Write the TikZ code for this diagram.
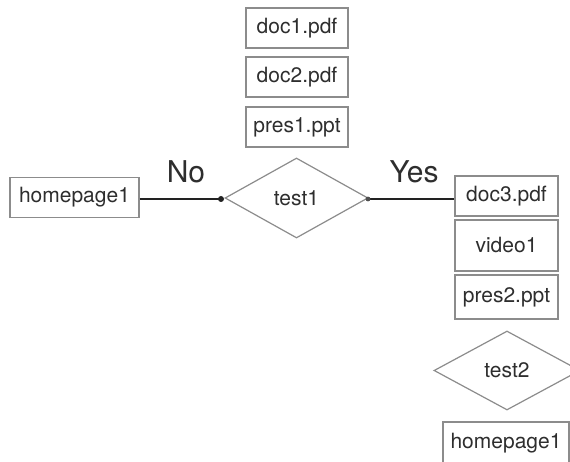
\documentclass[tikz,border=0pt]{standalone}
\usepackage{fontspec}
\setmainfont{TeX Gyre Heros}
\usetikzlibrary{shapes.geometric}
\definecolor{boxgray}{HTML}{8C8C8C}
\definecolor{txt}{HTML}{2E2E2E}
\definecolor{linedark}{HTML}{222222}
\tikzset{
  filebox/.style={draw=boxgray, line width=1.2pt, rectangle, inner sep=0pt, text=txt, font=\fontsize{21}{24}\selectfont},
  decision/.style={draw=boxgray, line width=1.2pt, diamond, inner sep=0pt, text=txt, font=\fontsize{21}{24}\selectfont},
  conn/.style={draw=linedark, line width=1.5pt},
  lab/.style={anchor=base, text=txt, font=\fontsize{30}{34}\selectfont},
}
\begin{document}
\begin{tikzpicture}[x=1pt,y=-1pt]
\path[use as bounding box, fill=white] (0,0) rectangle (570,462);
% left
\node[filebox, minimum width=129pt, minimum height=40pt] (hp1) at (74.5,197.5) {homepage1};
% centre column
\node[filebox, minimum width=102pt, minimum height=40pt] (doc1) at (297,28) {doc1.pdf};
\node[filebox, minimum width=102pt, minimum height=40pt] (doc2) at (297,77) {doc2.pdf};
\node[filebox, minimum width=102pt, minimum height=40pt] (pres1) at (297,127) {pres1.ppt};
\node[decision, minimum width=143pt, minimum height=80pt] (test1) at (296.5,198) {test1};
% right column
\node[filebox, minimum width=103pt, minimum height=40pt] (doc3) at (506.5,196) {doc3.pdf};
\node[filebox, minimum width=103pt, minimum height=51pt] (video1) at (506.5,245.5) {video1};
\node[filebox, minimum width=103pt, minimum height=44pt] (pres2) at (506.5,297) {pres2.ppt};
\node[decision, minimum width=146pt, minimum height=79pt] (test2) at (507,370.5) {test2};
\node[filebox, minimum width=126pt, minimum height=42pt] (hp2) at (506,443) {homepage1};
% connectors
\coordinate (dl) at (221,199);
\coordinate (dr) at (368,199);
\draw[conn] (hp1.east |- dl) -- (dl);
\draw[conn] (dr) -- (doc3.west |- dr);
\fill[linedark] (dl) circle (3pt);
\fill[linedark!80] (dr) circle (2.4pt);
% labels
\node[lab] (no) at (186,183) {No};
\node[lab] (yes) at (414,183) {Yes};
\end{tikzpicture}
\end{document}
